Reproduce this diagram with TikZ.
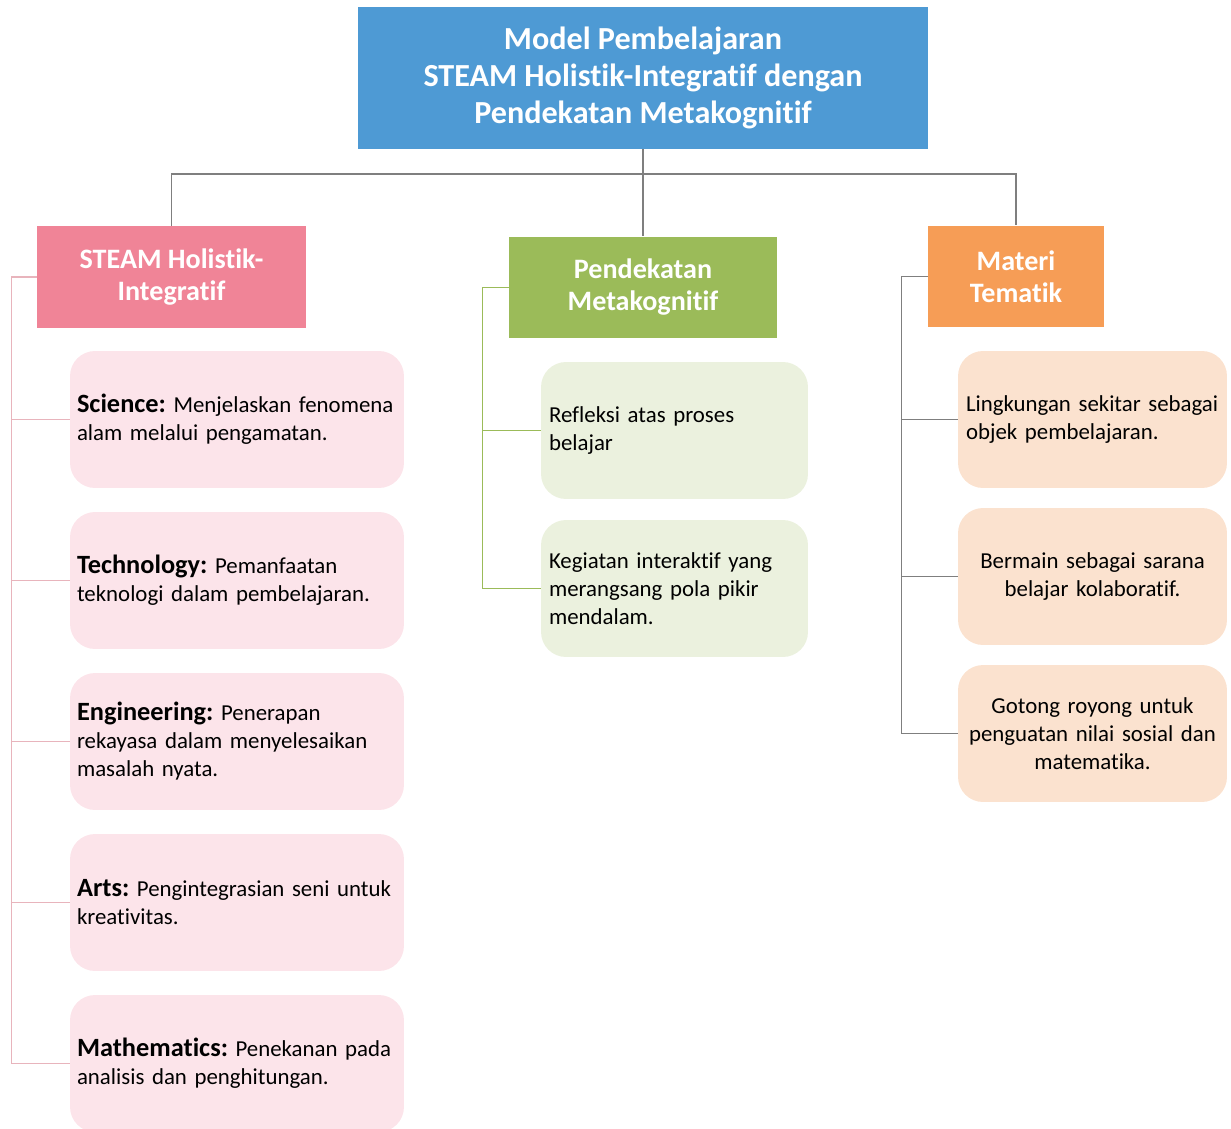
\documentclass[tikz,border=0pt]{standalone}
\usepackage{fontspec}
\setmainfont{Carlito}[Ligatures=NoCommon]
\usepackage{tikz}
\usetikzlibrary{positioning}
\definecolor{RootBlue}{HTML}{4E9AD4}
\definecolor{HeadPink}{HTML}{F08497}
\definecolor{HeadGreen}{HTML}{9BBB59}
\definecolor{HeadOrange}{HTML}{F69D56}
\definecolor{SoftPink}{HTML}{FCE4EA}
\definecolor{SoftGreen}{HTML}{EBF1DE}
\definecolor{SoftOrange}{HTML}{FBE2CF}
\definecolor{LineGray}{HTML}{7F7F7F}
\definecolor{LinePink}{HTML}{E8B4BC}
\newcommand{\lbl}[1]{{\fontsize{15}{15.9}\selectfont\bfseries #1}}
\frenchspacing
\hyphenpenalty=10000

\begin{document}
\begin{tikzpicture}[
  x=0.02cm, y=-0.02cm,
  % ── top box ──────────────────────────────────────────────────────────────
  rootbox/.style={
    fill=RootBlue, text=white, align=center,
    minimum width=11.4cm, minimum height=2.84cm,
    font=\fontsize{18.3}{21}\selectfont\bfseries
  },
  % ── column headers ───────────────────────────────────────────────────────
  headbox/.style={
    text=white, align=center,
    minimum height=2.03cm,
    font=\fontsize{16}{18.2}\selectfont\bfseries
  },
  % ── rounded item boxes ───────────────────────────────────────────────────
  itembox/.style={
    rounded corners=0.5cm, inner xsep=0.16cm,
    minimum height=2.74cm,
    font=\fontsize{13}{15.9}\selectfont
  },
  % ── connectors ───────────────────────────────────────────────────────────
  treeline/.style={draw=LineGray, line width=0.9pt},
  steamline/.style={draw=LinePink, line width=0.8pt},
  pendline/.style={draw=HeadGreen, line width=0.8pt},
]
\useasboundingbox (0,0) rectangle (1231,1129);

%% ── Top of the tree ──
\node[rootbox] (root) at (643,78)
  {Model Pembelajaran\\STEAM Holistik-Integratif dengan\\Pendekatan Metakognitif};

%% ── Column headers ──
\node[headbox, fill=HeadPink, minimum width=5.38cm]
      (steam)  at (171.5,277) {STEAM Holistik-\\Integratif};
\node[headbox, fill=HeadGreen, minimum width=5.36cm]
      (pend)   at (643,287.5) {Pendekatan\\Metakognitif};
\node[headbox, fill=HeadOrange, minimum width=3.52cm]
      (materi) at (1016,276.5) {Materi\\Tematik};
\coordinate (bus) at (643,174);

%% ── STEAM items ──
\node[itembox, fill=SoftPink, text width=6.4cm, inner xsep=0.14cm, align=left]
      (sci)  at (237,419.5) {\lbl{Science:} Menjelaskan fenomena\\alam melalui pengamatan.};
\node[itembox, fill=SoftPink, text width=6.4cm, inner xsep=0.14cm, align=left]
      (tech) at (237,580.5) {\lbl{Technology:} Pemanfaatan\\teknologi dalam pembelajaran.};
\node[itembox, fill=SoftPink, text width=6.4cm, inner xsep=0.14cm, align=left]
      (eng)  at (237,741.5) {\lbl{Engineering:} Penerapan\\rekayasa dalam menyelesaikan\\masalah nyata.};
\node[itembox, fill=SoftPink, text width=6.4cm, inner xsep=0.14cm, align=left]
      (art)  at (237,902.5) {\lbl{Arts:} Pengintegrasian seni untuk\\kreativitas.};
\node[itembox, fill=SoftPink, text width=6.4cm, inner xsep=0.14cm, align=left]
      (mat)  at (237,1063.5) {\lbl{Mathematics:} Penekanan pada\\analisis dan penghitungan.};

%% ── Metakognitif items ──
\node[itembox, fill=SoftGreen, text width=5.02cm, align=left]
      (refl) at (674.5,430.5) {Refleksi atas proses\\belajar};
\node[itembox, fill=SoftGreen, text width=5.02cm, align=left]
      (keg)  at (674.5,588.5) {Kegiatan interaktif yang\\merangsang pola pikir\\mendalam.};

%% ── Tematik items ──
\node[itembox, fill=SoftOrange, text width=5.06cm, align=left]
      (ling) at (1092.5,419.5) {Lingkungan sekitar sebagai\\objek pembelajaran.};
\node[itembox, fill=SoftOrange, text width=5.06cm, align=center]
      (main) at (1092.5,576.5) {Bermain sebagai sarana\\belajar kolaboratif.};
\node[itembox, fill=SoftOrange, text width=5.06cm, align=center]
      (got)  at (1092.5,733.5) {Gotong royong untuk\\penguatan nilai sosial dan\\matematika.};

%% ── Tree lines ──
\draw[treeline] (root.south) -- (pend.north);
\draw[treeline] (steam.north) |- (bus) -| (materi.north);

\foreach \n in {sci,tech,eng,art,mat}
  \draw[steamline] (steam.west) -- ++(-25,0) |- (\n.west);
\foreach \n in {refl,keg}
  \draw[pendline] (pend.west) -- ++(-26,0) |- (\n.west);
\foreach \n in {ling,main,got}
  \draw[treeline] (materi.west) -- ++(-26,0) |- (\n.west);

\end{tikzpicture}
\end{document}
